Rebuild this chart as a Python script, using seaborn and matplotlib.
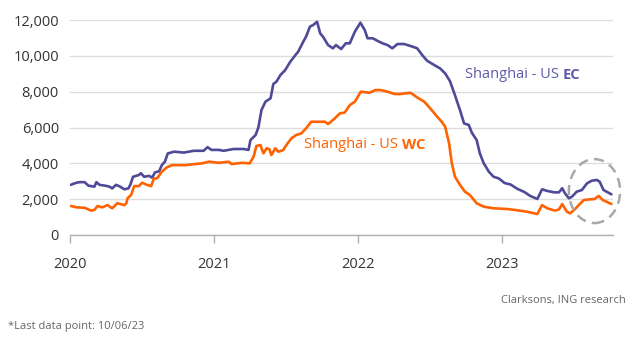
import matplotlib
matplotlib.use("Agg")
import matplotlib.pyplot as plt
import matplotlib.dates as mdates
from matplotlib.patches import Ellipse
import pandas as pd
import seaborn as sns

ec_dates = ["2020-01-03","2020-01-15","2020-01-25","2020-02-07","2020-02-17","2020-03-03","2020-03-08",
            "2020-03-16","2020-03-31","2020-04-10","2020-04-17","2020-04-27","2020-05-07","2020-05-18",
            "2020-05-28","2020-06-02","2020-06-09","2020-06-24","2020-06-29","2020-07-07","2020-07-20",
            "2020-07-27","2020-08-04","2020-08-14","2020-08-21","2020-08-29","2020-09-05","2020-09-21",
            "2020-10-16","2020-11-10","2020-12-05","2020-12-15","2020-12-25",
            "2021-01-13","2021-01-25","2021-02-19","2021-03-17","2021-03-29","2021-04-03","2021-04-16",
            "2021-04-23","2021-05-01","2021-05-11","2021-05-24","2021-05-31","2021-06-08","2021-06-18",
            "2021-06-30","2021-07-13","2021-07-26","2021-08-02","2021-08-15","2021-08-22","2021-09-01",
            "2021-09-09","2021-09-19","2021-09-27","2021-10-04","2021-10-17","2021-10-29","2021-11-06",
            "2021-11-19","2021-12-01","2021-12-11","2021-12-24",
            "2022-01-07","2022-01-18","2022-01-25","2022-02-07","2022-02-19","2022-03-04","2022-03-17",
            "2022-03-29","2022-04-11","2022-04-28","2022-05-14","2022-05-31","2022-06-13","2022-06-25",
            "2022-07-13","2022-07-28","2022-08-10","2022-08-22","2022-09-04","2022-09-17","2022-09-27",
            "2022-10-09","2022-10-17","2022-10-29","2022-11-06","2022-11-16","2022-11-29","2022-12-11",
            "2022-12-24",
            "2023-01-08","2023-01-23","2023-02-09","2023-02-27","2023-03-14","2023-04-01","2023-04-13",
            "2023-04-26","2023-05-14","2023-05-26","2023-06-03","2023-06-10","2023-06-20","2023-06-28",
            "2023-07-10","2023-07-23","2023-08-05","2023-08-17","2023-08-30","2023-09-06","2023-09-16",
            "2023-10-06"]
ec_values = [2800,2900,2950,2950,2750,2700,2950,
             2800,2750,2700,2600,2800,2700,2550,
             2600,2800,3250,3350,3450,3250,3300,
             3200,3500,3550,3900,4100,4550,4650,
             4600,4700,4700,4900,4750,
             4750,4700,4800,4800,4750,5300,5580,
             6000,6980,7440,7630,8430,8560,8930,
             9200,9670,10040,10230,10790,11070,11630,
             11720,11900,11250,11070,10600,10420,10600,
             10380,10700,10700,11350,
             11850,11440,10980,10980,10840,10700,10600,
             10420,10660,10660,10550,10420,10040,9730,
             9490,9300,9020,8600,7800,6950,6230,
             6140,5700,5300,4560,4000,3530,3250,
             3160,
             2900,2820,2580,2400,2180,2010,2550,
             2460,2380,2380,2610,2330,2050,2140,
             2420,2510,2880,3030,3070,2980,2510,
             2270]

wc_dates = ["2020-01-03","2020-01-18","2020-02-07","2020-02-24","2020-03-03","2020-03-11","2020-03-23",
            "2020-04-05","2020-04-17","2020-04-30","2020-05-18","2020-05-23","2020-05-26","2020-06-04",
            "2020-06-12","2020-06-24","2020-07-02","2020-07-15","2020-07-25","2020-08-01","2020-08-09",
            "2020-08-21","2020-09-03","2020-09-16","2020-10-21","2020-11-05","2020-12-01","2020-12-18",
            "2021-01-13","2021-02-07","2021-02-14","2021-03-12","2021-04-01","2021-04-11","2021-04-18",
            "2021-04-28","2021-05-06","2021-05-14","2021-05-21","2021-05-26","2021-06-05","2021-06-13",
            "2021-06-25","2021-07-03","2021-07-16","2021-07-28","2021-08-10","2021-08-22","2021-09-04",
            "2021-10-09","2021-10-17","2021-11-03","2021-11-16","2021-11-28","2021-12-11","2021-12-24",
            "2022-01-08","2022-01-30","2022-02-14","2022-02-27","2022-03-17","2022-04-03","2022-04-18",
            "2022-05-14","2022-05-31","2022-06-18","2022-07-03","2022-07-21","2022-08-02","2022-08-10",
            "2022-08-20","2022-08-27","2022-09-04","2022-09-17","2022-09-29","2022-10-12","2022-10-29",
            "2022-11-16","2022-12-11",
            "2023-01-15","2023-02-09","2023-03-06","2023-04-01","2023-04-13","2023-04-26","2023-05-16",
            "2023-05-26","2023-06-03","2023-06-15","2023-06-23","2023-07-05","2023-07-15","2023-07-28",
            "2023-08-12","2023-08-24","2023-09-04","2023-09-14","2023-10-06"]
wc_values = [1620,1540,1520,1360,1400,1620,1540,
             1670,1490,1770,1670,1770,2050,2230,
             2730,2730,2920,2790,2730,3160,3160,
             3530,3780,3900,3900,3940,4000,4090,
             4030,4090,3960,4030,4000,4370,4970,
             5020,4560,4840,4790,4460,4840,4650,
             4740,5020,5400,5580,5670,5950,6320,
             6320,6190,6510,6790,6830,7250,7440,
             8000,7940,8090,8090,8000,7870,7870,
             7940,7680,7440,7070,6600,6300,6050,
             5120,4000,3250,2790,2420,2230,1770,
             1580,1490,
             1450,1380,1300,1170,1670,1490,1360,
             1430,1730,1300,1210,1430,1670,1950,
             1990,2010,2180,1950,1730]

series_names = ["Shanghai - US EC", "Shanghai - US WC"]
y_ticks = [0, 2000, 4000, 6000, 8000, 10000, 12000]
x_tick_years = ["2020", "2021", "2022", "2023"]

EC_COLOR = "#4E4A98"
WC_COLOR = "#FF6200"

df = pd.concat([
    pd.DataFrame({"date": pd.to_datetime(ec_dates), "value": ec_values, "route": series_names[0]}),
    pd.DataFrame({"date": pd.to_datetime(wc_dates), "value": wc_values, "route": series_names[1]}),
])

sns.set_theme(style="white")
plt.rcParams["font.family"] = ["Open Sans", "DejaVu Sans"]

fig = plt.figure(figsize=(6.4, 3.58), dpi=100)
ax = fig.add_axes([70/640, 1-235/358, (613-70)/640, (235-20)/358])

sns.lineplot(data=df, x="date", y="value", hue="route",
             palette={series_names[0]: EC_COLOR, series_names[1]: WC_COLOR},
             linewidth=1.9, legend=False, ax=ax, zorder=3)

ax.set_ylim(0, 12000)
ax.set_xlim(pd.Timestamp("2020-01-01"), pd.Timestamp("2023-10-10"))
ax.set_yticks(y_ticks)
ax.set_yticklabels([f"{v:,}" for v in y_ticks])
ax.set_xticks([pd.Timestamp(f"{y}-01-01") for y in x_tick_years])
ax.set_xticklabels(x_tick_years)
ax.set_xlabel("")
ax.set_ylabel("")

ax.grid(axis="y", color="#DDDDDD", linewidth=1.0, zorder=0)
for s in ["top", "right", "left"]:
    ax.spines[s].set_visible(False)
ax.spines["bottom"].set_color("#B0B0B0")
ax.spines["bottom"].set_linewidth(1.0)
ax.tick_params(axis="x", which="major", bottom=True, length=6, width=1, color="#B0B0B0",
               labelsize=10.5, labelcolor="#333333", pad=10)
ax.tick_params(axis="y", length=0, labelsize=10.5, labelcolor="#333333", pad=8)

# Series labels with bold suffix
t1 = ax.text(pd.Timestamp("2022-09-29"), 8950, "Shanghai - US ", color="#5E5BA8",
             fontsize=10.5, va="center", ha="left")
ax.annotate("EC", xy=(1, 0.5), xycoords=t1, va="center", ha="left",
            color="#5E5BA8", fontsize=10.5, fontweight="bold")
t2 = ax.text(pd.Timestamp("2021-08-18"), 5050, "Shanghai - US ", color=WC_COLOR,
             fontsize=10.5, va="center", ha="left")
ax.annotate("WC", xy=(1, 0.5), xycoords=t2, va="center", ha="left",
            color=WC_COLOR, fontsize=10.5, fontweight="bold")

# Dashed highlight ellipse
center = mdates.date2num(pd.Timestamp("2023-08-24"))
ell = Ellipse((center, 2450), width=130, height=3570, fill=False,
              edgecolor="#A8A8A8", linestyle=(0, (4, 2.5)), linewidth=1.8, zorder=4, clip_on=False)
ax.add_patch(ell)

fig.text(626/640, 1-300/358, "Clarksons, ING research", ha="right", va="center",
         fontsize=8, color="#666666")
fig.text(8/640, 1-327/358, "*Last data point: 10/06/23", ha="left", va="center",
         fontsize=8, color="#666666")

fig.savefig("out.png", dpi=100)
